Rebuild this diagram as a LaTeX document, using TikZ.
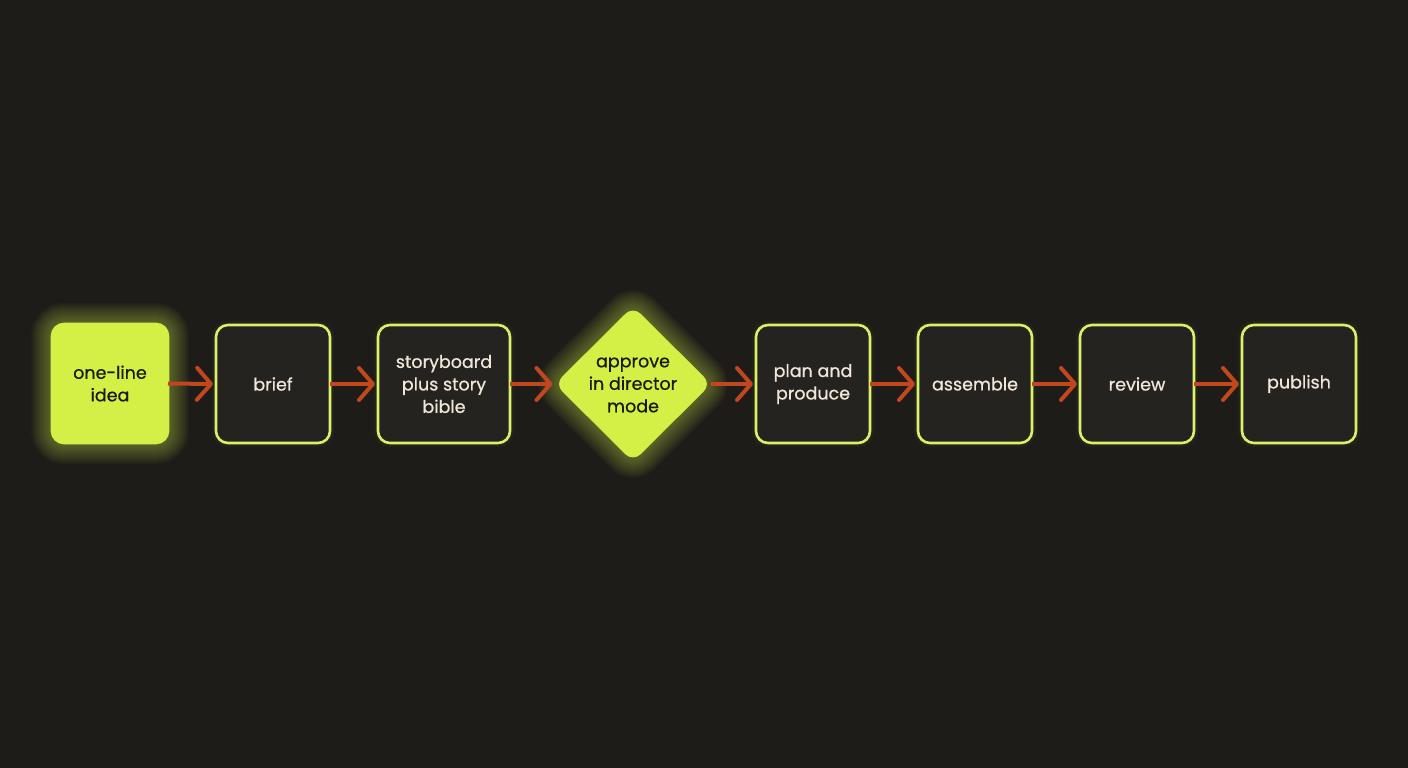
\documentclass[tikz,border=0pt]{standalone}
\usepackage{fontspec}
\setmainfont{Poppins}[FakeBold=0.7]
\usetikzlibrary{arrows.meta,shapes.geometric}
\definecolor{bgc}{HTML}{1E1C19}
\definecolor{boxc}{HTML}{252320}
\definecolor{lime}{HTML}{D4F046}
\definecolor{limeb}{HTML}{D8F06A}
\definecolor{arrc}{HTML}{C2461E}
\definecolor{cream}{HTML}{F1E7D9}
\definecolor{darkt}{HTML}{1A1A14}
\pgfdeclarelayer{background}
\pgfsetlayers{background,main}
\tikzset{
  stepbox/.style={rectangle, rounded corners=12pt, draw=limeb, line width=2.6pt, fill=boxc,
    minimum width=114pt, minimum height=118pt, outer sep=0pt, inner sep=2pt,
    text=cream, font=\fontsize{17.5}{22.5}\selectfont, align=center},
  startbox/.style={stepbox, fill=lime, draw=lime, text=darkt},
  dia/.style={diamond, draw=lime, fill=lime, line width=1pt, minimum width=155pt, minimum height=154pt,
    inner sep=0pt, outer sep=0pt, rounded corners=10pt},
  dtext/.style={text=darkt, font=\fontsize{17.5}{22.5}\selectfont, align=center},
  flow/.style={draw=arrc, line width=4pt, -{Straight Barb[length=14pt,width=32pt,line cap=round,line join=round]}},
  glow/.style={draw=lime, opacity=0.03, rounded corners=12pt},
}
\begin{document}
\begin{tikzpicture}[x=1pt,y=-1pt]
\useasboundingbox (0,0) rectangle (1408,768);
\node[startbox, minimum width=116pt, minimum height=119pt] (idea) at (110,383.5) {one-line\\idea};
\node[stepbox] (brief) at (273,384) {brief};
\node[stepbox, minimum width=132pt] (story) at (444,384) {storyboard\\plus story\\bible};
\node[dia] (appr) at (633,384) {};
\node[dtext] (apprt) at (633,385) {approve\\in director\\mode};
\node[stepbox] (plan) at (813,384) {plan and\\produce};
\node[stepbox] (asm) at (975,384) {assemble};
\node[stepbox] (rev) at (1137,384) {review};
\node[stepbox] (pub) at (1299,384) {publish};
\draw[flow] (idea.east) -- ([xshift=-3pt]brief.west);
\draw[flow] (brief.east) -- ([xshift=-3pt]story.west);
\draw[flow] (story.east) -- ([xshift=-3pt]appr.west);
\draw[flow] (appr.east) -- ([xshift=-3pt]plan.west);
\draw[flow] (plan.east) -- ([xshift=-3pt]asm.west);
\draw[flow] (asm.east) -- ([xshift=-3pt]rev.west);
\draw[flow] (rev.east) -- ([xshift=-3pt]pub.west);
\begin{pgfonlayer}{background}
\fill[bgc] (0,0) rectangle (1408,768);
\foreach \w in {3,6,...,42} {
  \draw[glow, line width=\w pt] (idea.south west) rectangle (idea.north east);
  \draw[glow, rounded corners=10pt, line width=\w pt] (appr.north) -- (appr.east) -- (appr.south) -- (appr.west) -- cycle;
}
\foreach \w in {3,6,9} {
  \draw[glow, opacity=0.02, line width=\w pt] (brief.south west) rectangle (brief.north east);
  \draw[glow, opacity=0.02, line width=\w pt] (story.south west) rectangle (story.north east);
  \draw[glow, opacity=0.02, line width=\w pt] (plan.south west) rectangle (plan.north east);
  \draw[glow, opacity=0.02, line width=\w pt] (asm.south west) rectangle (asm.north east);
  \draw[glow, opacity=0.02, line width=\w pt] (rev.south west) rectangle (rev.north east);
  \draw[glow, opacity=0.02, line width=\w pt] (pub.south west) rectangle (pub.north east);
}
\end{pgfonlayer}
\end{tikzpicture}
\end{document}
